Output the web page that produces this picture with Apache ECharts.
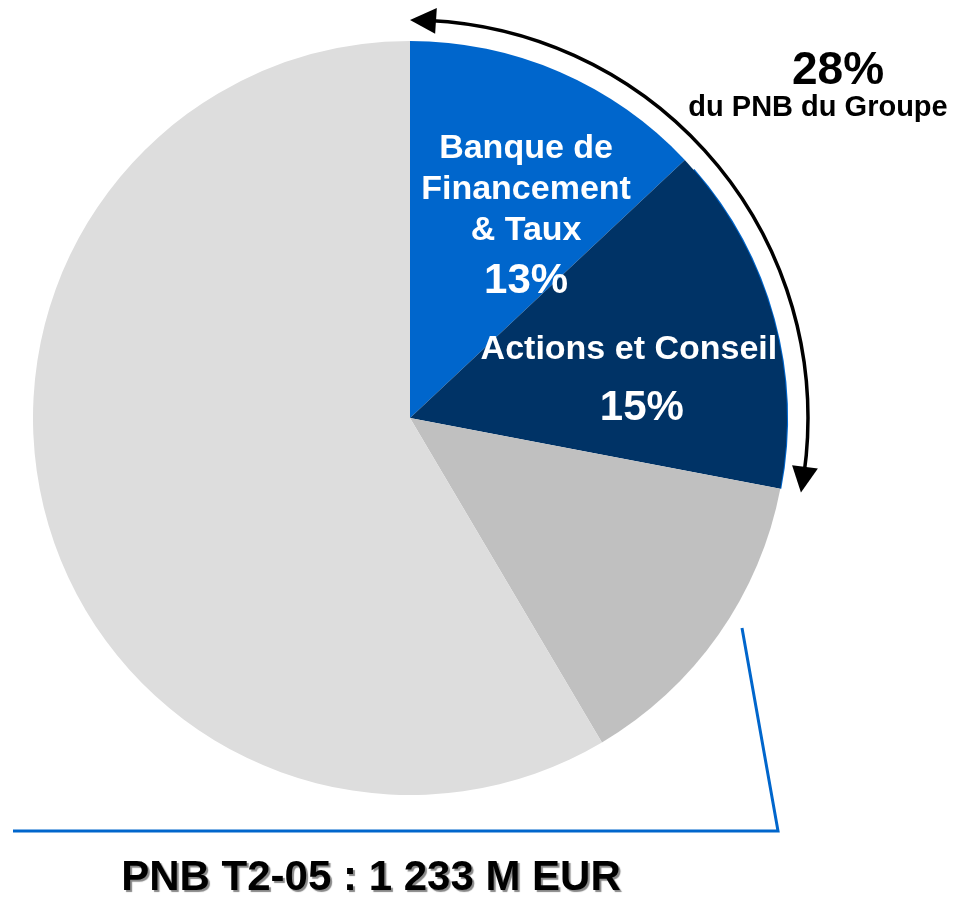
<!DOCTYPE html>
<html>
<head>
<meta charset="utf-8">
<script src="https://cdn.jsdelivr.net/npm/echarts@6/dist/echarts.min.js"></script>
<style>
    html, body { margin: 0; padding: 0; background: #fff; }
    #chart { width: 961px; height: 900px; }
</style>
</head>
<body>
<div id="chart"></div>
<script>
// parts of PNB (percent), clockwise from 12 o'clock
var names = ['Banque de Financement & Taux', 'Actions et Conseil', 'Autres 1', 'Autres 2'];
var values = [13, 15, 13.5, 58.5];
var colors = ['#0066CC', '#003366', '#C0C0C0', '#DDDDDD'];
var showLabel = [true, true, false, false];

var groupShare = '28%';
var groupText = 'du PNB du Groupe';
var totalText = 'PNB T2-05 : 1 233 M EUR';

var FONT = '"Liberation Sans", Arial, sans-serif';
var cx = 410, cy = 418, R = 377;

function ptAt(r, deg) {
    var a = deg * Math.PI / 180;
    return [cx + r * Math.sin(a), cy - r * Math.cos(a)];
}

// arrow covering the first two slices
function makeArrow() {
    var sum = 0;
    for (var i = 0; i < values.length; i++) sum += values[i];
    var endDeg = (values[0] + values[1]) / sum * 360;
    var ar = 398, len = 26, half = 13;
    var dl = len / ar * 180 / Math.PI;

    var head = function(tipDeg, baseDeg) {
        var tip = ptAt(ar, tipDeg);
        var b1 = ptAt(ar - half, baseDeg);
        var b2 = ptAt(ar + half, baseDeg);
        return {
            type: 'polygon',
            shape: { points: [tip, b1, b2] },
            style: { fill: '#000' }
        };
    };

    var toRad = function(d) { return (d - 90) * Math.PI / 180; };
    return [
        {
            type: 'arc',
            shape: { cx: cx, cy: cy, r: ar, startAngle: toRad(dl - 1), endAngle: toRad(endDeg - dl + 1), clockwise: true },
            style: { stroke: '#000', lineWidth: 3.5, fill: null }
        },
        // thin blue rim on the navy slice
        {
            type: 'arc',
            shape: { cx: cx, cy: cy, r: R, startAngle: toRad(values[0] / sum * 360 + 2), endAngle: toRad(endDeg), clockwise: true },
            style: { stroke: '#0066CC', lineWidth: 2, fill: null }
        },
        head(0, dl),
        head(endDeg, endDeg - dl)
    ];
}

var data = [];
for (var i = 0; i < names.length; i++) {
    data.push({
        name: names[i],
        value: values[i],
        itemStyle: { color: colors[i] },
        label: { show: showLabel[i] }
    });
}

var labelTexts = [
    '{a|Banque de}\n{a|Financement}\n{a|& Taux}\n{b|' + values[0] + '%}',
    '{a|Actions et Conseil}\n{c|' + values[1] + '%}'
];
var labelShift = [
    { dx: 40, dy: -22 },
    { dx: 35, dy: 23 },
    {}, {}
];

var chart = echarts.init(document.getElementById('chart'));
var option = {
    animation: false,
    backgroundColor: '#fff',
    series: [{
        type: 'pie',
        center: [cx, cy],
        radius: [0, R],
        startAngle: 90,
        clockwise: true,
        silent: true,
        data: data,
        labelLine: { show: false },
        label: {
            position: 'inside',
            color: '#fff',
            fontFamily: FONT,
            fontWeight: 'bold',
            formatter: function(p) { return labelTexts[p.dataIndex] || ''; },
            rich: {
                a: { fontSize: 34, lineHeight: 41, color: '#fff', fontWeight: 'bold', fontFamily: FONT },
                b: { fontSize: 42, lineHeight: 62, color: '#fff', fontWeight: 'bold', fontFamily: FONT },
                c: { fontSize: 42, lineHeight: 75, color: '#fff', fontWeight: 'bold', fontFamily: FONT, padding: [0, 0, 0, 26] }
            }
        },
        labelLayout: function(p) { return labelShift[p.dataIndex]; }
    }],
    graphic: makeArrow().concat([
        {
            type: 'polyline',
            shape: { points: [[13, 831], [778, 831], [742, 628]] },
            style: { stroke: '#0066CC', lineWidth: 3, fill: null }
        },
        {
            type: 'text', x: 838, y: 71,
            style: { text: groupShare, font: 'bold 46px ' + FONT, fill: '#000', align: 'center', verticalAlign: 'middle' }
        },
        {
            type: 'text', x: 818, y: 108,
            style: { text: groupText, font: 'bold 29px ' + FONT, fill: '#000', align: 'center', verticalAlign: 'middle' }
        },
        {
            type: 'text', x: 371, y: 878,
            style: {
                text: totalText, font: 'bold 42px ' + FONT, fill: '#000', align: 'center', verticalAlign: 'middle',
                textShadowColor: '#888', textShadowOffsetX: 2, textShadowOffsetY: 2, textShadowBlur: 1
            }
        }
    ])
};
chart.setOption(option);
</script>
</body>
</html>
